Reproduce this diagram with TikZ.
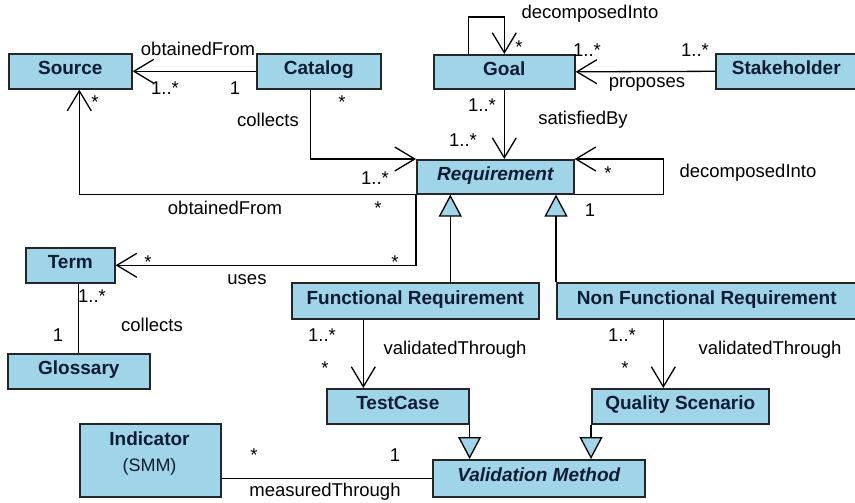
\documentclass[tikz,border=0pt]{standalone}
\usepackage{fontspec}
\setmainfont{Liberation Sans}
\usetikzlibrary{arrows.meta}
\definecolor{boxblue}{RGB}{160,212,232}
\definecolor{navy}{RGB}{14,28,52}
\tikzset{
  cls/.style={draw=black!85, line width=1.6pt, fill=boxblue, inner sep=0pt,
    anchor=north west, text=navy, text height=14pt, text depth=7pt,
    font=\fontsize{19}{21}\selectfont\bfseries},
  lbl/.style={inner sep=0pt, text=black, font=\fontsize{18.5}{20}\selectfont},
  assoc/.style={line width=1.3pt, -{Straight Barb[length=20pt,width=24pt]}},
  plain/.style={line width=1.3pt},
  gen/.style={line width=1.3pt, -{Triangle[length=22pt,width=23pt,fill=boxblue]}}
}
\newcommand{\clsbox}[6]{%
  \node[cls, minimum width=#4pt-#2pt, minimum height=#5pt-#3pt] (#1) at (#2,#3) {#6};}
\begin{document}
\begin{tikzpicture}[x=1pt,y=-1pt]
\useasboundingbox (0,0) rectangle (855,503);

% classes
\clsbox{source}{8}{53}{131}{88}{Source}
\clsbox{catalog}{256}{53}{380}{88}{Catalog}
\clsbox{goal}{433}{54}{574}{88}{Goal}
\clsbox{stake}{715}{53}{856}{88}{Stakeholder}
\clsbox{req}{416}{159}{573}{193}{\itshape Requirement}
\clsbox{term}{25}{247}{114}{282}{Term}
\clsbox{gloss}{7}{353}{149}{388}{Glossary}
\clsbox{fr}{291}{282}{538}{318}{Functional Requirement}
\clsbox{nfr}{556}{282}{856}{318}{Non Functional Requirement}
\clsbox{tc}{326}{388}{468}{423}{TestCase}
\clsbox{qs}{591}{388}{768}{423}{Quality Scenario}
\clsbox{ind}{79}{423}{220}{496}{}
\clsbox{vm}{432}{459}{644}{496}{\itshape Validation Method}
\node[inner sep=0pt, text=navy, font=\fontsize{19}{21}\selectfont\bfseries] (indname) at (149.5,439) {Indicator};
\node[inner sep=0pt, text=navy, font=\fontsize{18}{20}\selectfont] (indsmm) at (149.5,467) {(SMM)};

% helper points for offset connectors
\coordinate (goalloop) at ([xshift=-36pt]goal.north);
\coordinate (catout) at ([xshift=-8pt]catalog.south);
\coordinate (srcin) at ([xshift=9pt]source.south);
\coordinate (frup) at ([xshift=35pt]fr.north);
\coordinate (frdown) at ([xshift=-52pt]fr.south);
\coordinate (qsin) at ([xshift=-17pt]qs.north);
\coordinate (reqloop) at ([xshift=89pt]req.south east);

% associations
\draw[assoc] (catalog.west) -- (source.east);
\draw[assoc] (stake.west) -- (goal.east);
\draw[assoc] (goalloop) |- ([yshift=37pt]goal.north) -- (goal.north);
\draw[assoc] (goal.south) -- (goal.south |- req.north);
\draw[assoc] (catout) |- (req.north west);
\draw[assoc] (req.south west) -| (srcin);
\draw[assoc] (req.south west) |- (term.east);
\draw[assoc] (req.south east) -- (reqloop) |- (req.north east);
\draw[plain] (gloss.north |- term.south) -- (gloss.north);
\draw[assoc] (frdown) -- (frdown |- tc.north);
\draw[assoc] (qsin |- nfr.south) -- (qsin);
\draw[plain] (vm.west) -- (vm.west -| ind.east);

% generalizations
\draw[gen] (frup) -- (frup |- req.south);
\draw[gen] (nfr.north west) -- (nfr.north west |- req.south);
\draw[gen] (tc.south east) -- (tc.south east |- vm.north);
\draw[gen] (qs.south west) -- (qs.south west |- vm.north);

% role names and multiplicities
\node[lbl] (t1) at (198,49) {obtainedFrom};
\node[lbl] (t2) at (165,88) {1..*};
\node[lbl] (t3) at (235,88) {1};
\node[lbl] (t4) at (342,102) {*};
\node[lbl] (t5) at (268,120) {collects};
\node[lbl] (t6) at (375,178) {1..*};
\node[lbl] (t7) at (95,102) {*};
\node[lbl] (t8) at (225,208) {obtainedFrom};
\node[lbl] (t9) at (378,208) {*};
\node[lbl] (t10) at (590,14) {decomposedInto};
\node[lbl] (t11) at (519,47) {*};
\node[lbl] (t12) at (587,50) {1..*};
\node[lbl] (t13) at (695,50) {1..*};
\node[lbl] (t14) at (647,84) {proposes};
\node[lbl] (t15) at (482,105) {1..*};
\node[lbl] (t16) at (583,120) {satisfiedBy};
\node[lbl] (t17) at (463,140) {1..*};
\node[lbl] (t18) at (608,173) {*};
\node[lbl] (t19) at (748,173) {decomposedInto};
\node[lbl] (t20) at (590,210) {1};
\node[lbl] (t21) at (148,262) {*};
\node[lbl] (t22) at (395,262) {*};
\node[lbl] (t23) at (247,280) {uses};
\node[lbl] (t24) at (92,296) {1..*};
\node[lbl] (t25) at (58,335) {1};
\node[lbl] (t26) at (152,325) {collects};
\node[lbl] (t27) at (322,335) {1..*};
\node[lbl] (t28) at (455,350) {validatedThrough};
\node[lbl] (t29) at (325,368) {*};
\node[lbl] (t30) at (622,335) {1..*};
\node[lbl] (t31) at (770,350) {validatedThrough};
\node[lbl] (t32) at (625,368) {*};
\node[lbl] (t33) at (254,455) {*};
\node[lbl] (t34) at (395,455) {1};
\node[lbl] (t35) at (325,492) {measuredThrough};
\end{tikzpicture}
\end{document}
